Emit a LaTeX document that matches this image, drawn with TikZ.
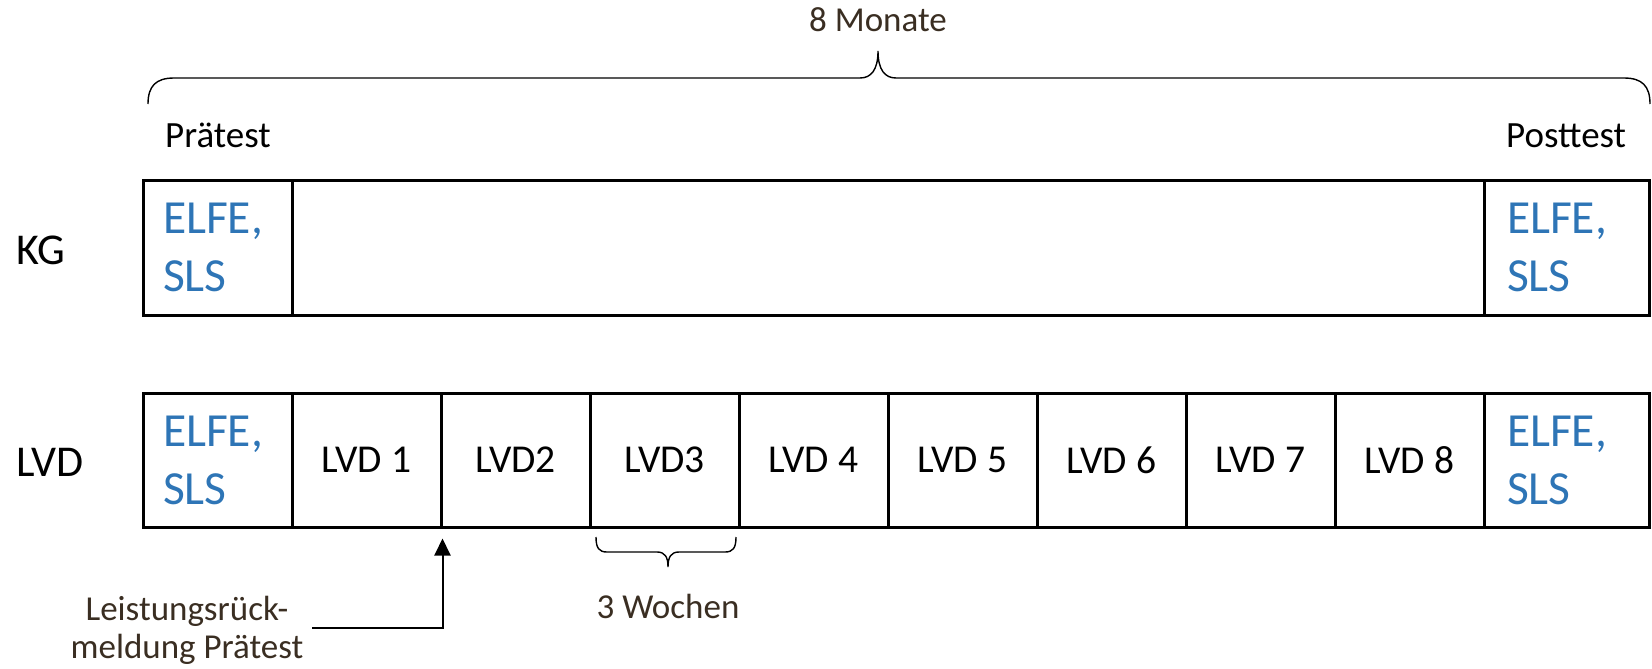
\documentclass[tikz,border=0pt]{standalone}
\usepackage{fontspec}
\setmainfont{Carlito}
\usetikzlibrary{arrows.meta}
\definecolor{elfeblue}{HTML}{2E75B6}
\definecolor{notebrown}{HTML}{3A2E22}
\begin{document}
\begin{tikzpicture}[x=1pt,y=-1pt,
  cell/.style={draw=black, line width=3pt, inner sep=0pt, minimum height=134pt, minimum width=149pt, font=\fontsize{39.5}{47}\selectfont},
  testcell/.style={cell, text=elfeblue, align=left, font=\fontsize{47.5}{58}\selectfont, inner xsep=20pt, text width=#1},
  rowlabel/.style={anchor=base west, inner sep=0pt, font=\fontsize{44}{52}\selectfont},
  toplabel/.style={anchor=base west, inner sep=0pt, font=\fontsize{37}{44}\selectfont},
  note/.style={inner sep=0pt, text=notebrown, font=\fontsize{35}{38}\selectfont, align=center},
  brace/.style={draw=black, line width=1.4pt},
  pointer/.style={draw=black, line width=2pt, -{Triangle[width=16pt,length=17pt]}},
]
\useasboundingbox (0,0) rectangle (1652,669);

% row labels
\node[rowlabel] (kglab) at (16,264) {KG};
\node[rowlabel] (lvdlab) at (16,476) {LVD};

% top labels
\node[toplabel] (pre) at (165,147) {Prätest};
\node[toplabel] (post) at (1506,147) {Posttest};
\node[note, anchor=base] (months) at (878,32) {8 Monate};

% KG row
\node[testcell=109pt, minimum height=135pt] (kgpre) at (217.5,247.5) {ELFE,\\SLS};
\node[cell, minimum width=1192pt, minimum height=135pt] (kgmid) at (888,247.5) {};
\node[testcell=119pt, inner xsep=23pt, minimum height=135pt] (kgpost) at (1566.5,247.5) {ELFE,\\SLS};

% LVD row
\node[testcell=109pt] (lvdpre) at (217.5,460) {ELFE,\\SLS};
\foreach \i/\t in {1/LVD 1,2/LVD2,3/LVD3,4/LVD 4,5/LVD 5,6/LVD 6,7/LVD 7,8/LVD 8}{
  \node[cell] (c\i) at ({292+149*(\i-1)+74.5},460) {\t};
}
\node[testcell=119pt, inner xsep=23pt] (lvdpost) at (1566.5,460) {ELFE,\\SLS};

% big brace
\draw[brace] (148,104) .. controls (148,86) and (156,78) .. (174,78) -- (860,78)
  .. controls (871,78) and (878,70) .. (878,51)
  .. controls (878,70) and (885,78) .. (896,78) -- (1624,78)
  .. controls (1642,78) and (1650,86) .. (1650,104);

% small brace
\draw[brace] (596,537) .. controls (596,548) and (599,552) .. (607,552) -- (657,552)
  .. controls (665,552) and (668,557) .. (668,567)
  .. controls (668,557) and (671,552) .. (679,552) -- (725,552)
  .. controls (733,552) and (736,548) .. (736,537);
\node[note, anchor=base] (weeks) at (668,618) {3 Wochen};

% feedback arrow
\node[note] (fbtext) at (187,630) {Leistungsrück-\\meldung Prätest};
\coordinate (fbstart) at (312,628);
\draw[pointer] (fbstart) -| ([yshift=-10pt]c1.south east);
\end{tikzpicture}
\end{document}
